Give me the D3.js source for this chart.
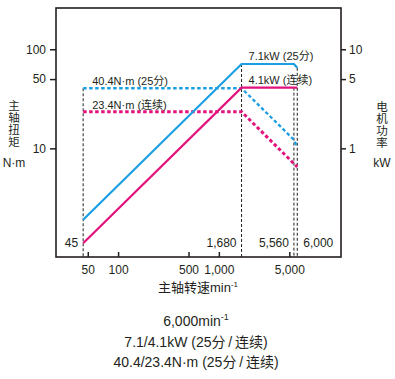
<!DOCTYPE html>
<html><head><meta charset="utf-8">
<script src="https://cdn.jsdelivr.net/npm/d3@7/dist/d3.min.js"></script>
<style>
html,body{margin:0;padding:0;background:#fff;}
svg{display:block;font-family:"Liberation Sans",Arial,"Noto Sans CJK SC",sans-serif;}
</style></head>
<body><svg id="c" width="395" height="379"></svg>
<script>
// ---- data ----
const speedPoints = [45, 1680, 5560, 6000];          // min^-1
const power25 = [0.19, 7.1, 7.1, 6.5];               // kW (25分)
const powerCont = [0.11, 4.1, 4.1, 4.1];             // kW (连续)
const torque25 = [40.4, 40.4, 12.2, 10.3];           // N·m (25分)
const torqueCont = [23.4, 23.4, 7.0, 6.5];           // N·m (连续)
const torqueTicks = [10, 50, 100];
const powerTicks = [1, 5, 10];
const speedTicks = [50, 100, 500, 1000, 5000];
const speedTickLabels = ["50", "100", "500", "1,000", "5,000"];
const markSpeeds = [45, 1680, 5560, 6000];
const markLabels = ["45", "1,680", "5,560", "6,000"];
const seriesLabels = ["40.4N·m (25分)", "23.4N·m (连续)", "7.1kW (25分)", "4.1kW (连续)"];
const summaryLines = ["7.1/4.1kW (25分\u2009/\u2009连续)", "40.4/23.4N·m (25分\u2009/\u2009连续)"];

const BLUE = "#1a9fe3", PINK = "#e4127d", INK = "#231f20";
const svg = d3.select("#c");
const L = 56, R = 341, T = 8, B = 257;

const x = d3.scaleLog().domain([24.2, 16300]).range([L, R]);
const yT = d3.scaleLog().domain([0.8, 261]).range([B, T]);
const yP = d3.scaleLog().domain([0.08, 26.1]).range([B, T]);

// axes
const gl = svg.append("g").attr("transform", `translate(${L},0)`)
  .call(d3.axisLeft(yT).tickValues(torqueTicks).tickFormat(d3.format("d")).tickSizeInner(6).tickSizeOuter(0).tickPadding(4));
const gr = svg.append("g").attr("transform", `translate(${R},0)`)
  .call(d3.axisRight(yP).tickValues(powerTicks).tickFormat(d3.format("d")).tickSizeInner(5).tickSizeOuter(0).tickPadding(3));
const gb = svg.append("g").attr("transform", `translate(0,${B})`)
  .call(d3.axisBottom(x).tickValues(speedTicks).tickFormat((d, i) => speedTickLabels[i]).tickSizeInner(-5).tickSizeOuter(0).tickPadding(8));
[gl, gr, gb].forEach(g => {
  g.select(".domain").remove();
  g.selectAll("line").attr("stroke", INK).attr("stroke-width", 1.5);
  g.selectAll("text").attr("fill", INK).style("font-size", "12px").style("font-family", "'Liberation Sans',Arial,sans-serif");
});
// box
svg.append("rect").attr("x", L).attr("y", T).attr("width", R - L).attr("height", B - T)
  .attr("fill", "none").attr("stroke", INK).attr("stroke-width", 1.6);

// vertical dashed markers
const markTops = [yT(torque25[0]), yP(power25[1]), yP(powerCont[2]), yP(power25[3])];
svg.append("g").selectAll("line").data(markSpeeds).join("line")
  .attr("x1", d => x(d)).attr("x2", d => x(d))
  .attr("y1", (d, i) => markTops[i]).attr("y2", B)
  .attr("stroke", INK).attr("stroke-width", 1).attr("stroke-dasharray", "3,2");

const pts = (xs, ys, sc) => xs.map((s, i) => [x(s), sc(ys[i])]);
const line = d3.line();
// torque (dotted)
svg.append("path").attr("d", line(pts(speedPoints, torque25, yT)))
  .attr("fill", "none").attr("stroke", BLUE).attr("stroke-width", 2.3).attr("stroke-dasharray", "3.5,2.5");
svg.append("path").attr("d", line(pts(speedPoints, torqueCont, yT)))
  .attr("fill", "none").attr("stroke", PINK).attr("stroke-width", 3).attr("stroke-dasharray", "3.5,2.5");
// power (solid)
svg.append("path").attr("d", line(pts(speedPoints, power25, yP)))
  .attr("fill", "none").attr("stroke", BLUE).attr("stroke-width", 2.2);
svg.append("path").attr("d", line(pts(speedPoints, powerCont, yP)))
  .attr("fill", "none").attr("stroke", PINK).attr("stroke-width", 2.2);

// series labels
const lab = (t, xx, yy, anchor, size) => svg.append("text").attr("x", xx).attr("y", yy)
  .attr("text-anchor", anchor || "start").attr("fill", INK).style("font-size", (size || 11) + "px").text(t);
lab(seriesLabels[0], x(45) + 9, yT(torque25[0]) - 3);
lab(seriesLabels[1], x(45) + 9, yT(torqueCont[0]) - 3);
lab(seriesLabels[2], x(1680) + 7, yP(power25[1]) - 4);
lab(seriesLabels[3], x(1680) + 7, yP(powerCont[1]) - 4);

// marker labels
markSpeeds.forEach((s, i) => {
  if (i === 3) lab(markLabels[i], x(s) + 6, 247, "start", 12);
  else lab(markLabels[i], x(s) - 5, 247, "end", 12);
});

// axis titles
const tt = svg.append("text").attr("x", 198).attr("y", 292).attr("text-anchor", "middle")
  .attr("fill", INK).style("font-size", "13px");
tt.append("tspan").text("主轴转速min");
tt.append("tspan").attr("dy", -5).style("font-size", "8px").text("-1");

"主轴扭矩".split("").forEach((c, i) => lab(c, 14, 110 + i * 12, "middle", 11.5));
lab("N·m", 14, 167, "middle", 12);
"电机功率".split("").forEach((c, i) => lab(c, 382, 111 + i * 12, "middle", 11.5));
lab("kW", 382, 167, "middle", 12);

// summary
const s1 = svg.append("text").attr("x", 196).attr("y", 326).attr("text-anchor", "middle")
  .attr("fill", INK).style("font-size", "14px");
s1.append("tspan").text("6,000min");
s1.append("tspan").attr("dy", -6).style("font-size", "9px").text("-1");
lab(summaryLines[0], 196, 347, "middle", 14);
lab(summaryLines[1], 196, 367, "middle", 14);
</script></body></html>
